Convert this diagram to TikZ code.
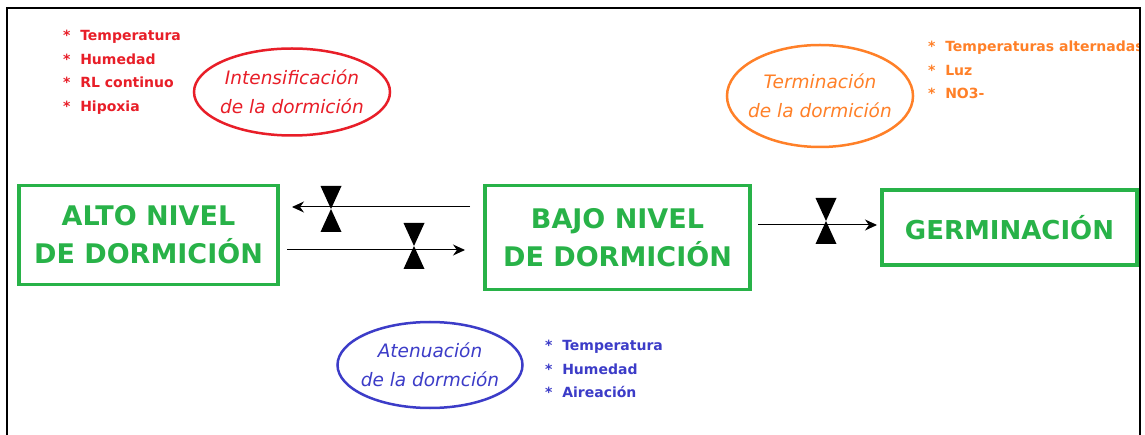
\documentclass[tikz,border=0pt]{standalone}
\usepackage{fontspec}
\setmainfont{DejaVu Sans}
\begin{document}
\begin{tikzpicture}[x=1pt,y=-1pt,
  greenbox/.style={draw=boxgreen,line width=3.5pt,inner sep=0pt,text=boxgreen,font=\fontsize{27}{38}\selectfont\bfseries,align=center},
  oval/.style={draw,ellipse,line width=2.5pt,inner xsep=-6pt,inner ysep=0pt,font=\fontsize{18.5}{29}\selectfont\itshape,align=center},
  lst/.style={anchor=north west,align=left,font=\fontsize{14}{23.5}\selectfont\bfseries,inner sep=0pt},
  flow/.style={line width=1pt,-{Stealth[length=12pt,width=11pt]}}]
\usetikzlibrary{shapes.geometric,arrows.meta}
\definecolor{boxgreen}{RGB}{40,178,72}
\definecolor{myred}{RGB}{232,30,40}
\definecolor{myorange}{RGB}{255,128,40}
\definecolor{myblue}{RGB}{60,60,200}
\useasboundingbox (0,0) rectangle (1145,435);
\fill[white] (0,0) rectangle (1145,435);
% boxes
\node[greenbox,minimum width=259pt,minimum height=99pt] (alto) at (148.5,235) {ALTO NIVEL\\DE DORMICIÓN};
\node[greenbox,minimum width=265pt,minimum height=104pt] (bajo) at (617.5,237.5) {BAJO NIVEL\\DE DORMICIÓN};
\node[greenbox,minimum width=255pt,minimum height=75pt,font=\fontsize{26}{38}\selectfont\bfseries] (germ) at (1009.5,227.5) {GERMINACIÓN};
% connectors
\coordinate (a1s) at (470,207); \coordinate (a1e) at (292,207);
\coordinate (a2s) at (287,250); \coordinate (a2e) at (465,250);
\coordinate (a3s) at (758,225); \coordinate (a3e) at (877,225);
\draw[flow] (a1s) -- (a1e);
\draw[flow] (a2s) -- (a2e);
\draw[flow] (a3s) -- (a3e);
% valves
\coordinate (v1) at (331,209);
\coordinate (v2) at (414,246);
\coordinate (v3) at (826,221);
\foreach \v in {v1,v2,v3}{
  \fill ([shift={(-10.5,-23)}]\v) -- ([shift={(10.5,-23)}]\v) -- (\v) -- cycle;
  \fill ([shift={(-10.5,23)}]\v) -- ([shift={(10.5,23)}]\v) -- (\v) -- cycle;
}
% ellipses
\node[oval,draw=myred,text=myred,minimum width=196pt,minimum height=87pt] (int) at (292,92) {Intensificación\\de la dormición};
\node[oval,draw=myorange,text=myorange,minimum width=186pt,minimum height=102pt] (term) at (820,96) {Terminación\\de la dormición};
\node[oval,draw=myblue,text=myblue,minimum width=185pt,minimum height=86pt] (aten) at (430,365) {Atenuación\\de la dormción};
% lists
\node[lst,text=myred] (lred) at (63,30) {*\ \ Temperatura\\*\ \ Humedad\\*\ \ RL continuo\\*\ \ Hipoxia};
\node[lst,text=myorange] (lor) at (928,41) {*\ \ Temperaturas alternadas\\*\ \ Luz\\*\ \ NO3-};
\node[lst,text=myblue] (lbl) at (545,340) {*\ \ Temperatura\\*\ \ Humedad\\*\ \ Aireación};
% frame (open at the bottom)
\fill[white] (1141,0) rectangle (1145,435);
\draw[line width=2.5pt] (7,435) -- (7,8) -- (1140,8) -- (1140,435);
\end{tikzpicture}
\end{document}
